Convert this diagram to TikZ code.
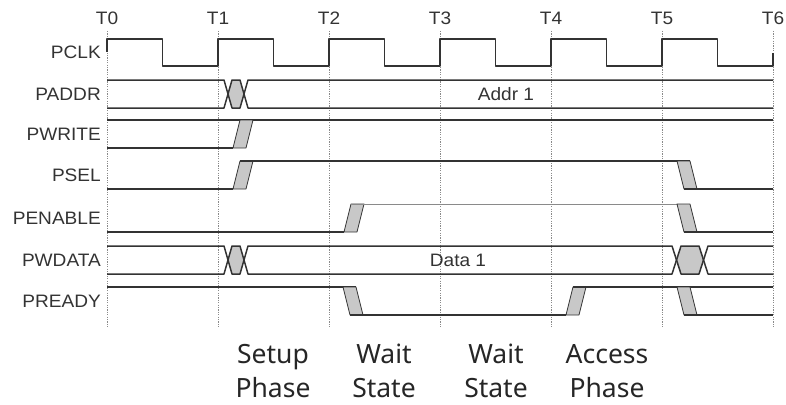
\documentclass[tikz,border=0pt]{standalone}
\usepackage{fontspec}
\setmainfont{Liberation Sans}
\newfontfamily\labfont[FakeStretch=1.06]{Liberation Sans}
\newfontfamily\phasefont{Noto Sans}
\definecolor{sig}{HTML}{333333}
\definecolor{band}{HTML}{C8C8C8}
\definecolor{grid}{HTML}{8A8A8A}
\definecolor{txt}{HTML}{333333}
\tikzset{
  sigline/.style={draw=sig, line width=1.5pt, line join=round},
  thinsig/.style={draw=grid, line width=0.9pt},
  bandshape/.style={fill=band, draw=sig, line width=0.8pt, line join=round},
  gridline/.style={draw=grid, line width=0.7pt, dash pattern=on 1.2pt off 1.2pt},
  tlabel/.style={font=\labfont\fontsize{18}{20}\selectfont, text=txt, inner sep=0pt},
  siglabel/.style={font=\labfont\fontsize{18}{20}\selectfont, text=txt, inner sep=0pt, anchor=east},
  datalabel/.style={font=\labfont\fontsize{18}{20}\selectfont, text=txt, inner sep=0pt},
  phaselabel/.style={font=\phasefont\fontsize{26.5}{34}\selectfont, text=black!85, inner sep=0pt, align=center}
}
\begin{document}
\begin{tikzpicture}[x=1pt,y=-1pt]
\useasboundingbox (0,0) rectangle (786,404);
% time grid
\foreach \i/\x in {0/107,1/218,2/329,3/440,4/551,5/662,6/773}{
  \node[tlabel] (T\i) at (\x,18) {T\i};
  \coordinate (gt\i) at (\x,31);
  \coordinate (gb\i) at (\x,328);
  \draw[gridline] (gt\i) -- (gb\i);
}
% signal names
\node[siglabel] (lpclk) at (101,52.5) {PCLK};
\node[siglabel] (lpaddr) at (101,94) {PADDR};
\node[siglabel] (lpwrite) at (101,134) {PWRITE};
\node[siglabel] (lpsel) at (101,175) {PSEL};
\node[siglabel] (lpenable) at (101,218) {PENABLE};
\node[siglabel] (lpwdata) at (101,260) {PWDATA};
\node[siglabel] (lpready) at (101,301) {PREADY};
% PCLK
\draw[sigline] (107,52) -- (107,39) -- (162.5,39) -- (162.5,66) -- (218,66) -- (218,39) -- (273.5,39) -- (273.5,66) -- (329,66) -- (329,39) -- (384.5,39) -- (384.5,66) -- (440,66) -- (440,39) -- (495.5,39) -- (495.5,66) -- (551,66) -- (551,39) -- (606.5,39) -- (606.5,66) -- (662,66) -- (662,39) -- (717.5,39) -- (717.5,66) -- (773,66) -- (773,53);
% PADDR
\fill[band] (228,94) -- (232,80) -- (240,80) -- (244,94) -- (240,108) -- (232,108) -- cycle;
\draw[sigline] (107,80) -- (224,80) -- (232,108) -- (240,108) -- (248,80) -- (773,80);
\draw[sigline] (107,108) -- (224,108) -- (232,80) -- (240,80) -- (248,108) -- (773,108);
\node[datalabel] (addr) at (506,94) {Addr 1};
% PWRITE
\draw[sigline] (107,120) -- (773,120);
\draw[sigline] (107,148) -- (233,148);
\draw[bandshape] (233,148) -- (246,148) -- (253,120) -- (240,120) -- cycle;
% PSEL
\draw[sigline] (107,189) -- (233,189);
\draw[bandshape] (233,189) -- (246,189) -- (253,161) -- (240,161) -- cycle;
\draw[sigline] (240,161) -- (690,161);
\draw[bandshape] (677,161) -- (690,161) -- (697,189) -- (684,189) -- cycle;
\draw[sigline] (684,189) -- (773,189);
% PENABLE
\draw[sigline] (107,232) -- (344,232);
\draw[bandshape] (344,232) -- (357,232) -- (364,204) -- (351,204) -- cycle;
\draw[thinsig] (351,204) -- (690,204);
\draw[bandshape] (677,204) -- (690,204) -- (697,232) -- (684,232) -- cycle;
\draw[sigline] (684,232) -- (773,232);
% PWDATA
\fill[band] (228,260) -- (232,246) -- (240,246) -- (244,260) -- (240,274) -- (232,274) -- cycle;
\fill[band] (676.5,260) -- (681,246) -- (699,246) -- (703.5,260) -- (699,274) -- (681,274) -- cycle;
\draw[sigline] (107,246) -- (224,246) -- (232,274) -- (240,274) -- (248,246) -- (672,246) -- (681,274) -- (699,274) -- (708,246) -- (773,246);
\draw[sigline] (107,274) -- (224,274) -- (232,246) -- (240,246) -- (248,274) -- (672,274) -- (681,246) -- (699,246) -- (708,274) -- (773,274);
\node[datalabel] (data) at (458,260) {Data 1};
% PREADY
\draw[sigline] (107,287) -- (356,287);
\draw[bandshape] (343,287) -- (356,287) -- (363,315) -- (350,315) -- cycle;
\draw[sigline] (350,315) -- (566,315);
\draw[bandshape] (566,315) -- (579,315) -- (586,287) -- (573,287) -- cycle;
\draw[sigline] (573,287) -- (773,287);
\draw[bandshape] (677,287) -- (690,287) -- (697,315) -- (684,315) -- cycle;
\draw[sigline] (684,315) -- (773,315);
% phases
\node[phaselabel] (ph1) at (273,371) {Setup\\Phase};
\node[phaselabel] (ph2) at (384,371) {Wait\\State};
\node[phaselabel] (ph3) at (496,371) {Wait\\State};
\node[phaselabel] (ph4) at (607,371) {Access\\Phase};
\end{tikzpicture}
\end{document}
